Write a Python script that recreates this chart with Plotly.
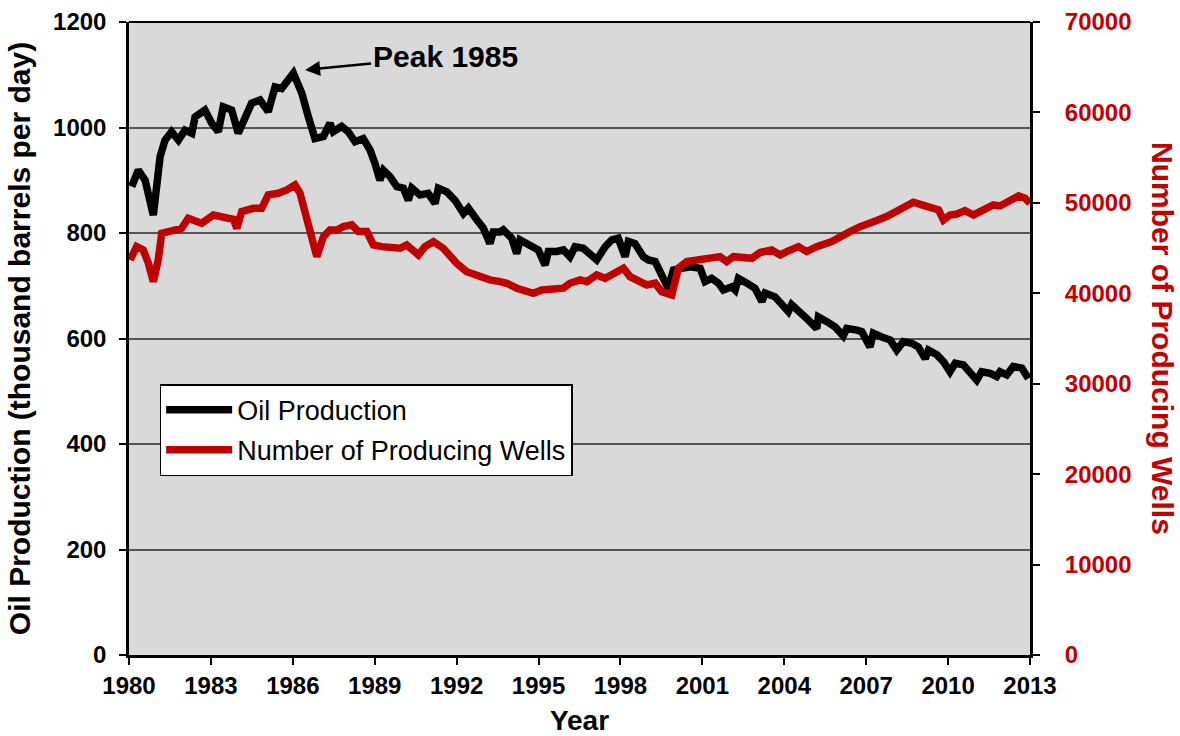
import plotly.graph_objects as go

# oil production, thousand barrels per day
oil_year = [1980.10, 1980.34, 1980.59, 1980.89, 1981.14, 1981.32, 1981.56, 1981.81, 1982.05, 1982.30,
            1982.42, 1982.78, 1983.03, 1983.27, 1983.45, 1983.76, 1984.00, 1984.25, 1984.49, 1984.80,
            1985.10, 1985.35, 1985.59, 1986.02, 1986.33, 1986.57, 1986.81, 1987.12, 1987.36, 1987.48,
            1987.79, 1988.03, 1988.28, 1988.58, 1988.83, 1989.01, 1989.19, 1989.32, 1989.56, 1989.81,
            1990.05, 1990.23, 1990.36, 1990.66, 1990.96, 1991.21, 1991.33, 1991.64, 1991.94, 1992.25,
            1992.43, 1992.74, 1992.98, 1993.22, 1993.34, 1993.59, 1993.71, 1994.02, 1994.20, 1994.32,
            1994.69, 1994.99, 1995.24, 1995.36, 1995.67, 1995.91, 1996.15, 1996.34, 1996.64, 1996.89,
            1997.13, 1997.44, 1997.68, 1997.92, 1998.17, 1998.29, 1998.53, 1998.84, 1999.02, 1999.27,
            1999.51, 1999.75, 1999.94, 2000.18, 2000.55, 2000.92, 2001.10, 2001.34, 2001.59, 2001.77,
            2002.08, 2002.20, 2002.32, 2002.63, 2002.93, 2003.18, 2003.30, 2003.66, 2003.91, 2004.15,
            2004.27, 2004.58, 2004.82, 2005.19, 2005.25, 2005.56, 2005.86, 2006.16, 2006.29, 2006.66,
            2006.84, 2007.14, 2007.26, 2007.57, 2007.88, 2008.12, 2008.36, 2008.67, 2008.91, 2009.16,
            2009.28, 2009.59, 2009.83, 2010.07, 2010.26, 2010.56, 2010.81, 2011.05, 2011.23, 2011.54,
            2011.78, 2011.90, 2012.15, 2012.39, 2012.70, 2012.94]
oil = [888, 919, 900, 834, 945, 976, 992, 976, 995, 989,
       1020, 1033, 1008, 992, 1039, 1033, 989, 1020, 1046, 1052,
       1030, 1077, 1074, 1103, 1065, 1020, 979, 983, 1008, 992,
       1002, 992, 973, 979, 957, 932, 900, 919, 907, 888,
       885, 862, 885, 872, 875, 856, 885, 878, 862, 837,
       847, 825, 809, 780, 802, 802, 806, 790, 761, 787,
       777, 768, 739, 765, 765, 768, 755, 774, 771, 761,
       749, 774, 787, 790, 755, 784, 780, 755, 749, 746,
       720, 695, 730, 733, 736, 733, 708, 714, 705, 692,
       698, 692, 714, 705, 695, 670, 686, 679, 667, 651,
       664, 651, 638, 619, 641, 632, 622, 605, 619, 616,
       613, 584, 610, 603, 597, 578, 594, 591, 584, 562,
       578, 569, 556, 537, 553, 550, 537, 521, 537, 534,
       528, 537, 531, 547, 544, 524]

# number of producing wells
well_year = [1980.04, 1980.28, 1980.52, 1980.71, 1980.89, 1981.07, 1981.20, 1981.56, 1981.93, 1982.17,
             1982.66, 1983.09, 1983.52, 1983.82, 1983.95, 1984.13, 1984.55, 1984.86, 1985.10, 1985.47,
             1985.78, 1986.08, 1986.26, 1986.52, 1986.74, 1986.88, 1987.12, 1987.36, 1987.61, 1987.85,
             1988.16, 1988.40, 1988.71, 1988.95, 1989.26, 1989.62, 1989.93, 1990.17, 1990.60, 1990.84,
             1991.15, 1991.51, 1992.00, 1992.37, 1992.86, 1993.22, 1993.59, 1993.84, 1994.20, 1994.57,
             1994.81, 1995.12, 1995.54, 1995.91, 1996.15, 1996.52, 1996.77, 1997.13, 1997.44, 1997.80,
             1998.11, 1998.35, 1998.66, 1998.96, 1999.27, 1999.51, 1999.88, 2000.12, 2000.43, 2000.79,
             2001.16, 2001.65, 2001.89, 2002.14, 2002.81, 2003.11, 2003.54, 2003.85, 2004.09, 2004.52,
             2004.82, 2005.19, 2005.74, 2006.04, 2006.41, 2006.78, 2007.02, 2007.39, 2007.75, 2008.12,
             2008.42, 2008.73, 2009.04, 2009.34, 2009.65, 2009.83, 2010.07, 2010.32, 2010.62, 2010.93,
             2011.29, 2011.66, 2011.90, 2012.21, 2012.58, 2012.82, 2013.00]
wells = [43690, 45160, 44790, 43320, 41290, 43690, 46640, 47010, 47190, 48300,
         47750, 48660, 48300, 48190, 47190, 49030, 49400, 49400, 50880, 51060,
         51430, 51980, 51100, 47800, 45500, 44050, 46260, 47000, 47000, 47370,
         47560, 46820, 46820, 45350, 45160, 45160, 44980, 45350, 44240, 45160,
         45710, 44980, 43320, 42390, 41840, 41480, 41290, 41110, 40560, 40180,
         40000, 40370, 40370, 40560, 41110, 41480, 41290, 42030, 41660, 42210,
         42770, 41840, 41290, 40920, 41110, 40180, 39820, 42770, 43500, 43690,
         43870, 44050, 43500, 44050, 43870, 44500, 44790, 44240, 44610, 45160,
         44610, 45160, 45710, 46260, 46820, 47370, 47560, 48040, 48480, 49030,
         49580, 50070, 49770, 49510, 49220, 48110, 48660, 48770, 49140, 48660,
         49220, 49770, 49660, 50130, 50770, 50510, 49960]

year_ticks = list(range(1980, 2014, 3))

RED = "#c00000"
FONT = "Liberation Sans, Arial, sans-serif"

fig = go.Figure()
fig.add_trace(go.Scatter(x=oil_year, y=oil, mode="lines", name="Oil Production",
                         line=dict(color="black", width=7.5), legendgroup="a"))
fig.add_trace(go.Scatter(x=well_year, y=wells, mode="lines", name="Number of Producing Wells",
                         line=dict(color=RED, width=7.5), yaxis="y2", legendgroup="b"))

fig.update_layout(
    width=1180, height=736,
    margin=dict(l=129, r=150, t=22, b=81),
    paper_bgcolor="white", plot_bgcolor="#d9d9d9",
    font=dict(family=FONT, color="black"),
    xaxis=dict(range=[1980, 2013], tickvals=year_ticks, showgrid=False, zeroline=False,
               automargin=False,
               showline=True, linecolor="black", linewidth=3,
               ticks="outside", ticklen=7, tickwidth=2, tickcolor="black",
               tickfont=dict(size=24, weight="bold"),
               title=dict(text="Year", font=dict(size=28, weight="bold"), standoff=15)),
    yaxis=dict(range=[0, 1200], dtick=200, showgrid=True, gridcolor="#555555", gridwidth=1.5,
               automargin=False,
               zeroline=False, showline=True, linecolor="black", linewidth=2.5,
               ticks="outside", ticklen=7, tickwidth=2, tickcolor="black",
               ticklabelstandoff=8,
               tickfont=dict(size=24, weight="bold"),
               title=dict(text="Oil Production (thousand barrels per day)",
                          font=dict(size=30, weight="bold"), standoff=14)),
    yaxis2=dict(range=[0, 70000], dtick=10000, tickformat="d", overlaying="y", side="right",
                automargin=False,
                showgrid=False, zeroline=False, showline=True, linecolor="black", linewidth=3,
                ticks="outside", ticklen=7, tickwidth=2, tickcolor="black",
                ticklabelstandoff=20,
                tickfont=dict(size=24, weight="bold", color=RED)),
    legend=dict(x=0.034, y=0.428, xanchor="left", yanchor="top",
                bgcolor="white", bordercolor="black", borderwidth=1.5,
                font=dict(size=27), tracegroupgap=2, itemwidth=66,
                entrywidth=430, entrywidthmode="pixels"),
    showlegend=True,
)

# top border of the plot area
fig.add_shape(type="line", xref="paper", yref="paper", x0=0, x1=1, y0=1, y1=1,
              line=dict(color="black", width=2))

# right axis title reads top to bottom
fig.add_annotation(text="Number of Producing Wells", xref="paper", yref="paper",
                   x=1.147, y=0.5, xanchor="center", yanchor="middle", textangle=90,
                   showarrow=False, font=dict(size=30, weight="bold", color=RED))

fig.add_annotation(text="Peak 1985", x=1986.45, y=1109, ax=140, ay=-14,
                   showarrow=True, arrowhead=2, arrowsize=1.2, arrowwidth=2.5, arrowcolor="black",
                   font=dict(size=30, weight="bold"))

# page has a default 8px body margin; drop it so the figure sits at the corner
fig.write_html("out.html", config={"displayModeBar": False},
               post_script="document.body.style.margin='0';")
